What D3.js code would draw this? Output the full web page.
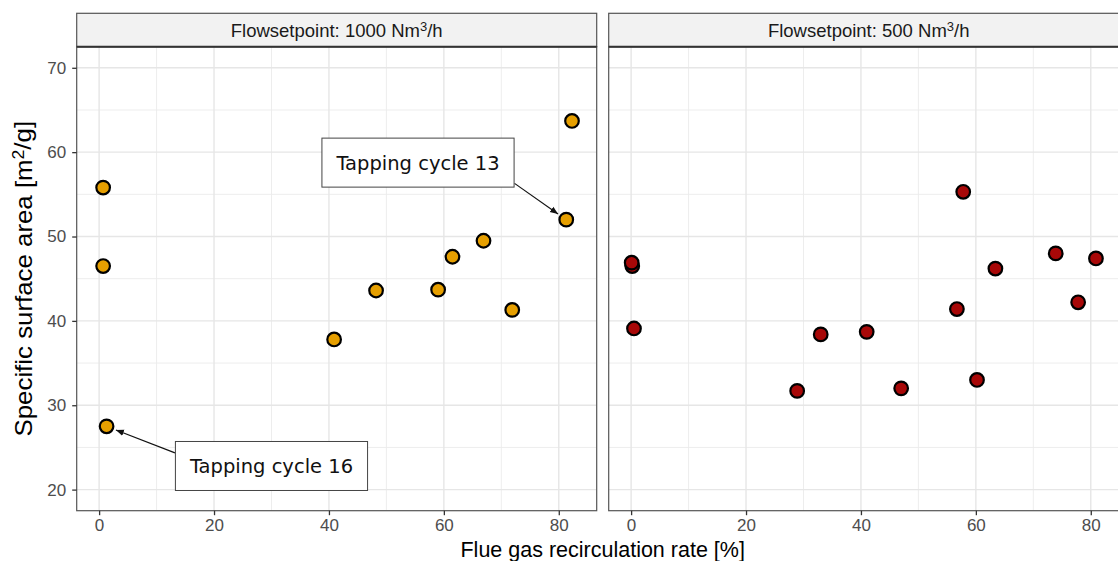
<!DOCTYPE html>
<html>
<head>
<meta charset="utf-8">
<script src="https://cdn.jsdelivr.net/npm/d3@7"></script>
<style>
  html, body { margin: 0; padding: 0; background: #fff; }
  svg { display: block; }
</style>
</head>
<body>
<svg id="chart" width="1118" height="561"></svg>
<script>
// ---------------- DATA ----------------
const flowSetpoints = ["1000", "500"];               // facet labels (Nm³/h)
const xTicks = [0, 20, 40, 60, 80];
const xMinor = [10, 30, 50, 70];
const yTicks = [20, 30, 40, 50, 60, 70];
const yMinor = [25, 35, 45, 55, 65];

// panel 1: Flowsetpoint 1000
const rate1000 = [0.7, 0.7, 1.3, 40.9, 48.2, 59.0, 61.5, 66.9, 71.9, 81.3, 82.3];
const area1000 = [55.8, 46.5, 27.5, 37.8, 43.6, 43.7, 47.6, 49.5, 41.3, 52.0, 63.7];
// panel 2: Flowsetpoint 500
const rate500 = [0.2, 0.1, 0.5, 28.9, 33.0, 41.0, 47.0, 56.7, 57.8, 60.2, 63.4, 73.9, 77.8, 80.9];
const area500 = [46.5, 46.9, 39.1, 31.7, 38.4, 38.7, 32.0, 41.4, 55.3, 33.0, 46.2, 48.0, 42.2, 47.4];

// annotations (panel 1), in data units
const annLabels = ["Tapping cycle 13", "Tapping cycle 16"];
const annBoxX   = [55.5, 30.0];
const annBoxY   = [58.76, 22.8];
const annFromX  = [72.3, 13.2];
const annFromY  = [56.3, 24.35];
const annToX    = [81.3, 1.3];
const annToY    = [52.0, 27.5];

// ---------------- LAYOUT ----------------
const svg = d3.select("#chart");
const panelW = 520, gap = 12;
const left0 = 76.7;
const stripTop = 13.3, stripBot = 46.7, panelBot = 510.7;
const fills = ["#E69F00", "#A80808"];
const axisFont = "'Liberation Sans', Arial, Helvetica, sans-serif";

const y = d3.scaleLinear().domain([17.5, 72.5]).range([panelBot, stripBot]);

const panels = [
  {flow: flowSetpoints[0], xs: rate1000, ys: area1000, fill: fills[0]},
  {flow: flowSetpoints[1], xs: rate500,  ys: area500,  fill: fills[1]}
];

const defs = svg.append("defs");
defs.append("marker")
  .attr("id", "arrow").attr("viewBox", "0 0 10 10")
  .attr("refX", 10).attr("refY", 5)
  .attr("markerWidth", 8).attr("markerHeight", 8)
  .attr("markerUnits", "userSpaceOnUse")
  .attr("orient", "auto")
  .append("path").attr("d", "M0,1 L10,5 L0,9 Z").attr("fill", "#111");

panels.forEach((p, i) => {
  const px0 = left0 + i * (panelW + gap);
  const x = d3.scaleLinear().domain([-3.9, 86.6]).range([px0, px0 + panelW]);

  defs.append("clipPath").attr("id", "clip" + i)
    .append("rect").attr("x", px0).attr("y", stripBot).attr("width", panelW).attr("height", panelBot - stripBot);

  const g = svg.append("g");
  const gc = g.append("g").attr("clip-path", `url(#clip${i})`);

  gc.append("rect").attr("x", px0).attr("y", stripBot).attr("width", panelW).attr("height", panelBot - stripBot).attr("fill", "#fff");

  // minor grid
  gc.selectAll(".vmin").data(xMinor).join("line")
    .attr("x1", d => x(d)).attr("x2", d => x(d)).attr("y1", stripBot).attr("y2", panelBot)
    .attr("stroke", "#ebebeb").attr("stroke-width", 0.9);
  gc.selectAll(".hmin").data(yMinor).join("line")
    .attr("x1", px0).attr("x2", px0 + panelW).attr("y1", d => y(d)).attr("y2", d => y(d))
    .attr("stroke", "#ebebeb").attr("stroke-width", 0.9);
  // major grid
  gc.selectAll(".vmaj").data(xTicks).join("line")
    .attr("x1", d => x(d)).attr("x2", d => x(d)).attr("y1", stripBot).attr("y2", panelBot)
    .attr("stroke", "#e6e6e6").attr("stroke-width", 1.4);
  gc.selectAll(".hmaj").data(yTicks).join("line")
    .attr("x1", px0).attr("x2", px0 + panelW).attr("y1", d => y(d)).attr("y2", d => y(d))
    .attr("stroke", "#e6e6e6").attr("stroke-width", 1.4);

  if (i === 0) {
    annLabels.forEach((lab, k) => {
      const fx = x(annFromX[k]), fy = y(annFromY[k]);
      const tx = x(annToX[k]), ty = y(annToY[k]);
      const dx = tx - fx, dy = ty - fy, len = Math.hypot(dx, dy);
      const shorten = 10;
      gc.append("line")
        .attr("x1", fx).attr("y1", fy)
        .attr("x2", fx + dx * (len - shorten) / len).attr("y2", fy + dy * (len - shorten) / len)
        .attr("stroke", "#111").attr("stroke-width", 1.2)
        .attr("marker-end", "url(#arrow)");
    });
  }

  const pts = p.xs.map((v, k) => ({x: v, y: p.ys[k]}));
  gc.selectAll(".pt").data(pts).join("circle")
    .attr("cx", d => x(d.x)).attr("cy", d => y(d.y)).attr("r", 6.8)
    .attr("fill", p.fill).attr("stroke", "#000").attr("stroke-width", 2.2);

  if (i === 0) {
    annLabels.forEach((lab, k) => {
      const cx = x(annBoxX[k]), cy = y(annBoxY[k]);
      const t = gc.append("text")
        .attr("x", cx).attr("y", cy).attr("text-anchor", "middle").attr("dy", "0.36em")
        .attr("font-family", "'DejaVu Sans', Verdana, sans-serif").attr("font-size", 19.5)
        .attr("fill", "#111").text(lab);
      const bb = t.node().getBBox();
      const bw = bb.width + 28, bh = 49;
      gc.insert("rect", () => t.node())
        .attr("x", cx - bw / 2).attr("y", cy - bh / 2).attr("width", bw).attr("height", bh)
        .attr("fill", "#fff").attr("stroke", "#444").attr("stroke-width", 1);
    });
  }

  // panel border
  g.append("rect").attr("x", px0).attr("y", stripBot).attr("width", panelW).attr("height", panelBot - stripBot)
    .attr("fill", "none").attr("stroke", "#555").attr("stroke-width", 1.2);

  // strip
  g.append("rect").attr("x", px0).attr("y", stripTop).attr("width", panelW).attr("height", stripBot - stripTop)
    .attr("fill", "#f2f2f2").attr("stroke", "#555").attr("stroke-width", 1.2);
  g.append("line").attr("x1", px0).attr("x2", px0 + panelW).attr("y1", stripBot).attr("y2", stripBot)
    .attr("stroke", "#333").attr("stroke-width", 2);
  const st = g.append("text")
    .attr("x", px0 + panelW / 2).attr("y", (stripTop + stripBot) / 2).attr("dy", "0.36em")
    .attr("text-anchor", "middle").attr("font-family", axisFont).attr("font-size", 18.5).attr("fill", "#1a1a1a");
  st.append("tspan").text(`Flowsetpoint: ${p.flow} Nm`);
  st.append("tspan").attr("font-size", 13).attr("dy", "-0.45em").text("3");
  st.append("tspan").attr("dy", "0.32em").text("/h");

  // x axis
  const xAxis = g.append("g").attr("transform", `translate(0,${panelBot})`)
    .call(d3.axisBottom(x).tickValues(xTicks).tickSize(4.5).tickPadding(4).tickSizeOuter(0));
  xAxis.select(".domain").remove();
  xAxis.selectAll("line").attr("stroke", "#333").attr("stroke-width", 1.3);
  xAxis.selectAll("text").attr("font-family", axisFont).attr("font-size", 17).attr("fill", "#4d4d4d");

  if (i === 0) {
    const yAxis = g.append("g").attr("transform", `translate(${px0},0)`)
      .call(d3.axisLeft(y).tickValues(yTicks).tickSize(4.5).tickPadding(6).tickSizeOuter(0));
    yAxis.select(".domain").remove();
    yAxis.selectAll("line").attr("stroke", "#333").attr("stroke-width", 1.3);
    yAxis.selectAll("text").attr("font-family", axisFont).attr("font-size", 17).attr("fill", "#4d4d4d");
  }
});

// axis titles
svg.append("text")
  .attr("x", left0 + (2 * panelW + gap) / 2).attr("y", 556.5)
  .attr("text-anchor", "middle").attr("font-family", axisFont).attr("font-size", 21.5).attr("fill", "#000")
  .text("Flue gas recirculation rate [%]");

const yt = svg.append("text")
  .attr("transform", `translate(31.5,${(stripBot + panelBot) / 2}) rotate(-90) scale(1.1,1)`)
  .attr("text-anchor", "middle").attr("font-family", axisFont).attr("font-size", 23.5).attr("fill", "#000");
yt.append("tspan").text("Specific surface area [m");
yt.append("tspan").attr("font-size", 16).attr("dy", "-0.45em").text("2");
yt.append("tspan").attr("dy", "0.3em").text("/g]");
</script>
</body>
</html>
